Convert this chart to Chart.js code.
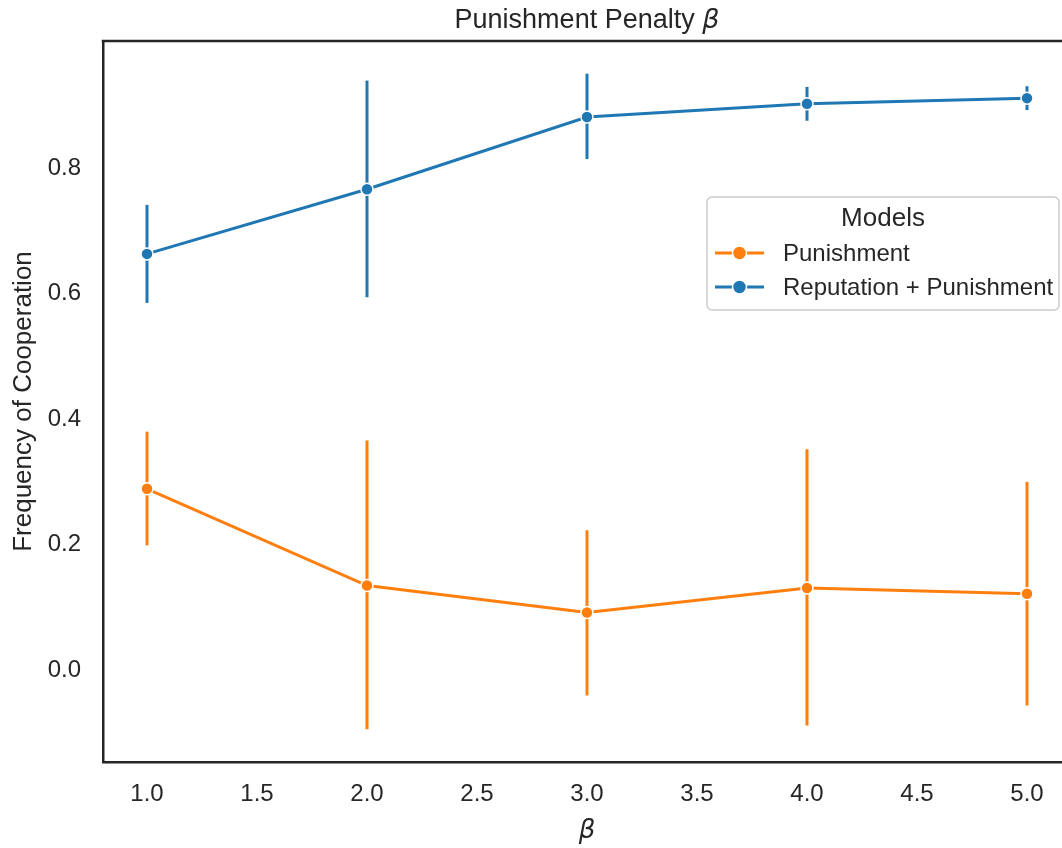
<!DOCTYPE html>
<html>
<head>
<meta charset="utf-8">
<title>Punishment Penalty</title>
<script src="https://cdn.jsdelivr.net/npm/chart.js@4.4.1/dist/chart.umd.min.js"></script>
<style>
  html, body { margin: 0; padding: 0; background: #fff; overflow: hidden; }
  .chart-wrapper { width: 1062px; height: 848px; overflow: hidden; }
</style>
</head>
<body>
<div class="chart-wrapper">
  <canvas id="chart" width="1090" height="848"></canvas>
</div>
<script>
// values
const betaValues = [1, 2, 3, 4, 5];

const punishMean = [0.286, 0.132, 0.089, 0.128, 0.119];
const punishLow  = [0.196, -0.097, -0.043, -0.091, -0.059];
const punishHigh = [0.377, 0.363, 0.220, 0.349, 0.297];

const repMean = [0.660, 0.763, 0.878, 0.899, 0.908];
const repLow  = [0.582, 0.591, 0.811, 0.872, 0.889];
const repHigh = [0.738, 0.936, 0.947, 0.926, 0.927];

const xTickValues = [1.0, 1.5, 2.0, 2.5, 3.0, 3.5, 4.0, 4.5, 5.0];
const yTickValues = [0.0, 0.2, 0.4, 0.6, 0.8];

const seriesNames = ['Punishment', 'Reputation + Punishment'];
const seriesColors = ['#ff7f0e', '#1f77b4'];

const TEXT = '#262626';
const FONT = '"Liberation Sans", Arial, sans-serif';
const MATH = '"DejaVu Sans", sans-serif';

const toPoints = (ys) => betaValues.map((x, i) => ({ x: x, y: ys[i] }));

const errorBars = [
  { low: punishLow, high: punishHigh, color: seriesColors[0] },
  { low: repLow, high: repHigh, color: seriesColors[1] }
];

// vertical error bars under the lines
const errorBarPlugin = {
  id: 'errorBars',
  beforeDatasetsDraw(chart) {
    const { ctx, scales } = chart;
    ctx.save();
    ctx.lineWidth = 3;
    ctx.lineCap = 'butt';
    errorBars.forEach(eb => {
      ctx.strokeStyle = eb.color;
      betaValues.forEach((x, i) => {
        const px = scales.x.getPixelForValue(x);
        ctx.beginPath();
        ctx.moveTo(px, scales.y.getPixelForValue(eb.low[i]));
        ctx.lineTo(px, scales.y.getPixelForValue(eb.high[i]));
        ctx.stroke();
      });
    });
    ctx.restore();
  }
};

// top/right spines, title, legend box
const decorPlugin = {
  id: 'decor',
  afterDraw(chart) {
    const { ctx, chartArea } = chart;
    ctx.save();
    ctx.strokeStyle = TEXT;
    ctx.lineWidth = 2.5;
    ctx.beginPath();
    ctx.moveTo(chartArea.left - 1.25, chartArea.top);
    ctx.lineTo(chartArea.right, chartArea.top);
    ctx.lineTo(chartArea.right, chartArea.bottom);
    ctx.stroke();

    // title with italic beta
    const part1 = 'Punishment Penalty ';
    ctx.fillStyle = TEXT;
    ctx.textBaseline = 'alphabetic';
    ctx.font = '27px ' + FONT;
    const w1 = ctx.measureText(part1).width;
    ctx.font = 'italic 27px ' + MATH;
    const w2 = ctx.measureText('β').width;
    const cx = (chartArea.left + chartArea.right) / 2;
    const tx = cx - (w1 + w2) / 2;
    ctx.textAlign = 'left';
    ctx.font = '27px ' + FONT;
    ctx.fillText(part1, tx, 28);
    ctx.font = 'italic 27px ' + MATH;
    ctx.fillText('β', tx + w1, 28);

    // legend
    const bx = 707, by = 197, bw = 352, bh = 113;
    ctx.fillStyle = 'rgba(255,255,255,0.8)';
    ctx.strokeStyle = '#cccccc';
    ctx.lineWidth = 1.5;
    ctx.beginPath();
    ctx.roundRect(bx, by, bw, bh, 5);
    ctx.fill();
    ctx.stroke();

    ctx.fillStyle = TEXT;
    ctx.font = '26px ' + FONT;
    ctx.textAlign = 'center';
    ctx.textBaseline = 'middle';
    ctx.fillText('Models', bx + bw / 2, 219);

    ctx.font = '24px ' + FONT;
    seriesNames.forEach((name, i) => {
      const ry = 253 + i * 34;
      ctx.strokeStyle = seriesColors[i];
      ctx.lineWidth = 3;
      ctx.beginPath();
      ctx.moveTo(715, ry);
      ctx.lineTo(764, ry);
      ctx.stroke();
      ctx.beginPath();
      ctx.arc(739.5, ry, 7, 0, Math.PI * 2);
      ctx.fillStyle = seriesColors[i];
      ctx.fill();
      ctx.strokeStyle = '#ffffff';
      ctx.lineWidth = 1.5;
      ctx.stroke();
      ctx.fillStyle = TEXT;
      ctx.textAlign = 'left';
      ctx.fillText(name, 783, ry + 1);
    });
    ctx.restore();
  }
};

const ctx = document.getElementById('chart').getContext('2d');
new Chart(ctx, {
  type: 'line',
  data: {
    datasets: [
      {
        label: seriesNames[0],
        data: toPoints(punishMean),
        borderColor: seriesColors[0],
        backgroundColor: seriesColors[0],
        borderWidth: 3,
        pointRadius: 6,
        pointBorderColor: '#ffffff',
        pointBorderWidth: 1.5,
        tension: 0
      },
      {
        label: seriesNames[1],
        data: toPoints(repMean),
        borderColor: seriesColors[1],
        backgroundColor: seriesColors[1],
        borderWidth: 3,
        pointRadius: 6,
        pointBorderColor: '#ffffff',
        pointBorderWidth: 1.5,
        tension: 0
      }
    ]
  },
  options: {
    responsive: false,
    animation: false,
    layout: { padding: { top: 41, right: 19, left: 0, bottom: 0 } },
    plugins: {
      legend: { display: false },
      tooltip: { enabled: false },
      title: { display: false }
    },
    scales: {
      x: {
        type: 'linear',
        min: 0.8,
        max: 5.2,
        afterBuildTicks: (axis) => { axis.ticks = xTickValues.map(v => ({ value: v })); },
        afterFit: (axis) => { axis.height = 86; },
        grid: { display: false, drawTicks: false },
        border: { display: true, color: TEXT, width: 2.5 },
        ticks: {
          color: TEXT,
          padding: 18,
          maxRotation: 0,
          autoSkip: false,
          font: { family: FONT, size: 24 },
          callback: (v) => Number(v).toFixed(1)
        },
        title: {
          display: true,
          text: 'β',
          color: TEXT,
          font: { family: MATH, size: 26, style: 'italic' },
          padding: { top: 0, bottom: 1 }
        }
      },
      y: {
        type: 'linear',
        min: -0.149,
        max: 0.999,
        afterBuildTicks: (axis) => { axis.ticks = yTickValues.map(v => ({ value: v })); },
        afterFit: (axis) => { axis.width = 103; },
        grid: { display: false, drawTicks: false },
        border: { display: true, color: TEXT, width: 2.5 },
        ticks: {
          color: TEXT,
          padding: 22,
          labelOffset: 2,
          autoSkip: false,
          font: { family: FONT, size: 24 },
          callback: (v) => Number(v).toFixed(1)
        },
        title: {
          display: true,
          text: 'Frequency of Cooperation',
          color: TEXT,
          font: { family: FONT, size: 26 },
          padding: { top: 8, bottom: 0 }
        }
      }
    }
  },
  plugins: [errorBarPlugin, decorPlugin]
});
</script>
</body>
</html>
